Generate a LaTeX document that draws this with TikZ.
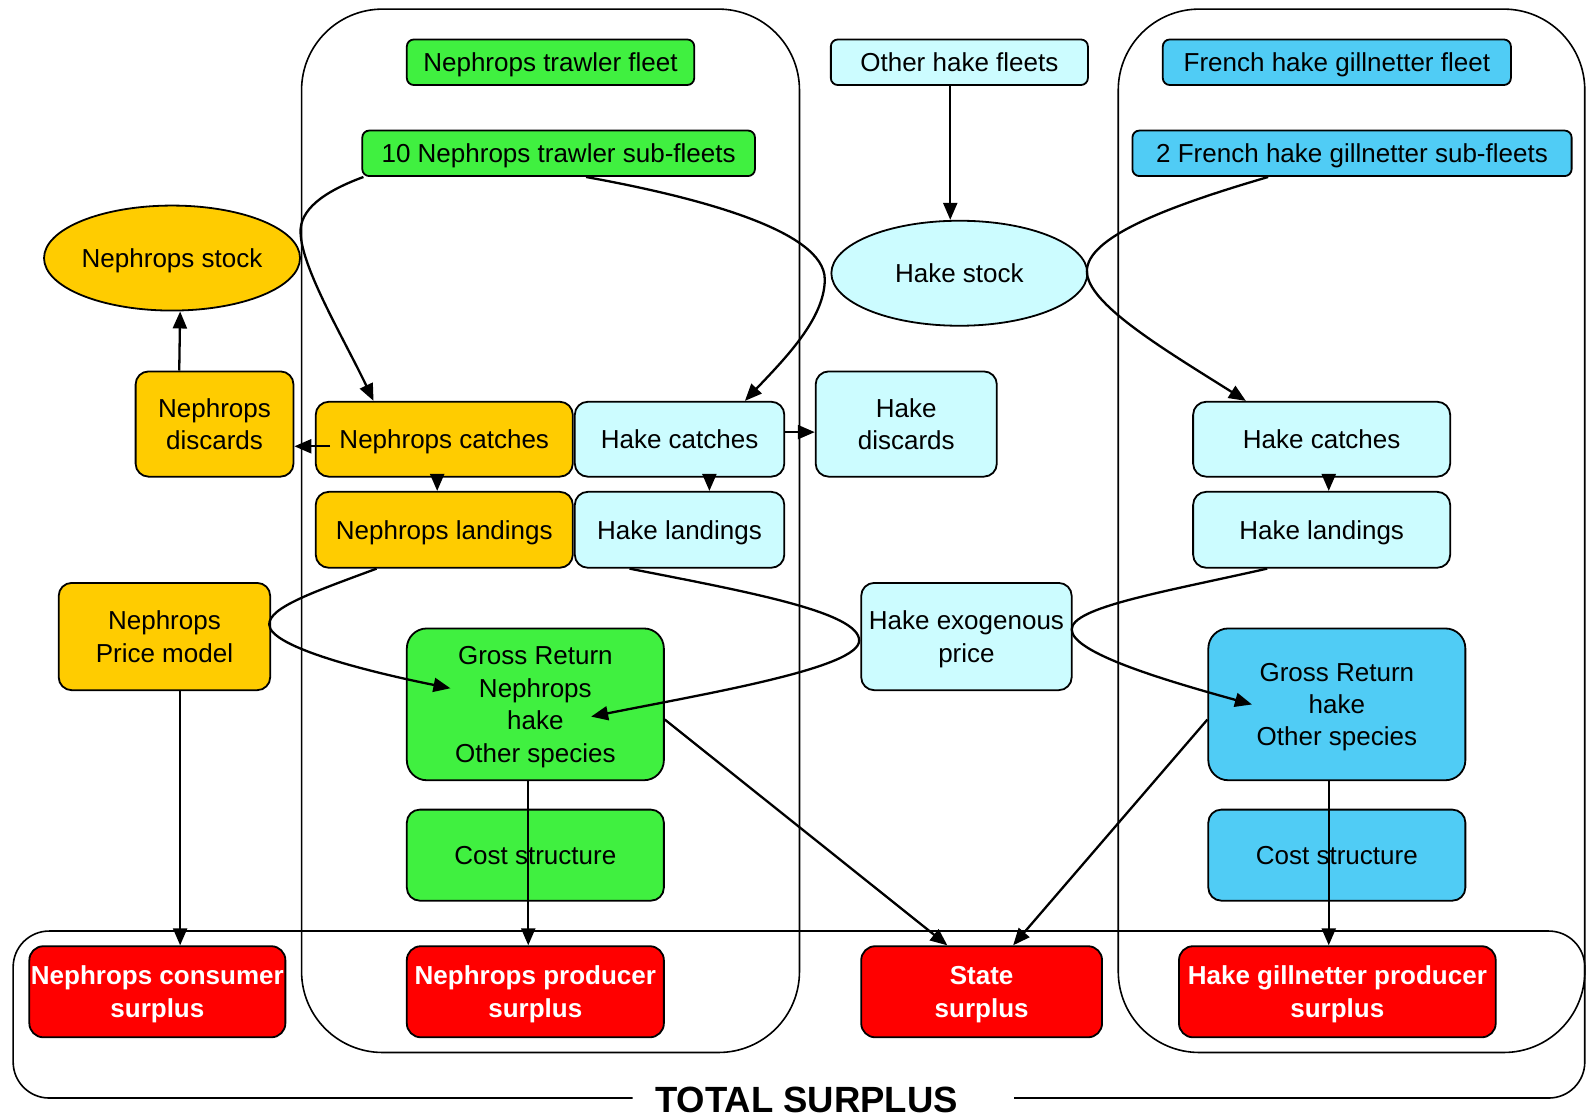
\documentclass[tikz,border=0pt]{standalone}
\usepackage{fontspec}
\setmainfont{Liberation Sans}
\usetikzlibrary{arrows.meta,shapes.geometric,calc}
\definecolor{ngreen}{RGB}{64,240,64}
\definecolor{lcyan}{RGB}{204,252,255}
\definecolor{dcyan}{RGB}{80,204,245}
\definecolor{nyellow}{RGB}{255,204,0}
\definecolor{sred}{RGB}{255,0,0}
% \bx{name}{style}{x1}{y1}{x2}{y2}{text}
\newcommand\bx[7]{\node[#2, minimum width={(#5-#3)*1.012pt}, minimum height={(#6-#4)*1.012pt}] (#1) at ({(#3+#5)/2},{(#4+#6)/2}) {#7};}
\begin{document}
\begin{tikzpicture}[x=1.012pt,y=-1.012pt,
  base/.style={draw=black, line width=1.8pt, inner sep=0pt, align=center, text depth=0pt, font=\fontsize{26}{32.4}\selectfont},
  topbox/.style={base, rounded corners=7pt},
  midbox/.style={base, rounded corners=13pt},
  bigbox/.style={base, rounded corners=20pt},
  redbox/.style={base, rounded corners=14pt, fill=sred, text=white, font=\fontsize{26}{32.4}\selectfont\bfseries},
  stockshape/.style={base, ellipse, minimum width=256pt, minimum height=105pt},
  conn/.style={line width=2.3pt, -{Triangle[length=17pt,width=14pt]}},
  framestyle/.style={line width=1.6pt},
]
\useasboundingbox (0,0) rectangle (1568.2,1103.8);

% containers
\draw[framestyle, rounded corners=81pt] (298,9) rectangle (790,1040);
\draw[framestyle, rounded corners=81pt] (1105,9) rectangle (1566,1040);
\draw[framestyle, rounded corners=36pt] (625,1085) -- (13,1085) -- (13,920) -- (1566,920) -- (1566,1085) -- (1002,1085);

% nodes
\bx{ntf}{topbox, fill=ngreen}{402}{39}{686}{84}{Nephrops trawler fleet}
\bx{nsub}{topbox, fill=ngreen}{358}{129}{746}{174}{10 Nephrops trawler sub-fleets}
\bx{ohf}{topbox, fill=lcyan}{821}{39}{1075}{84}{Other hake fleets}
\bx{fhgf}{topbox, fill=dcyan}{1149}{39}{1493}{84}{French hake gillnetter fleet}
\bx{fsub}{topbox, fill=dcyan}{1119}{129}{1553}{174}{2 French hake gillnetter sub-fleets}

\node[stockshape, fill=nyellow] (nstock) at (170,255) {Nephrops stock};
\node[stockshape, fill=lcyan] (hstock) at (948,270) {Hake stock};

\bx{ndisc}{midbox, fill=nyellow}{134}{367}{290}{471}{Nephrops\\discards}
\bx{ncatch}{midbox, fill=nyellow}{312}{397}{566}{471}{Nephrops catches}
\bx{hcatchL}{midbox, fill=lcyan}{568}{397}{775}{471}{Hake catches}
\bx{hdisc}{midbox, fill=lcyan}{806}{367}{985}{471}{Hake\\discards}
\bx{hcatchR}{midbox, fill=lcyan}{1179}{397}{1433}{471}{Hake catches}

\bx{nland}{midbox, fill=nyellow}{312}{486}{566}{561}{Nephrops landings}
\bx{hlandL}{midbox, fill=lcyan}{568}{486}{775}{561}{Hake landings}
\bx{hlandR}{midbox, fill=lcyan}{1179}{486}{1433}{561}{Hake landings}

\bx{nprice}{midbox, fill=nyellow}{58}{576}{267}{682}{Nephrops\\Price model}
\bx{hprice}{midbox, fill=lcyan}{851}{576}{1059}{682}{Hake exogenous\\price}

\bx{grossL}{bigbox, fill=ngreen}{402}{621}{656}{771}{Gross Return\\Nephrops\\hake\\Other species}
\bx{grossR}{bigbox, fill=dcyan}{1194}{621}{1448}{771}{Gross Return\\hake\\Other species}

\bx{costL}{midbox, fill=ngreen}{402}{800}{656}{890}{Cost structure}
\bx{costR}{midbox, fill=dcyan}{1194}{800}{1448}{890}{Cost structure}

\bx{ncons}{redbox}{29}{935}{282}{1025}{Nephrops consumer\\surplus}
\bx{nprod}{redbox}{402}{935}{656}{1025}{Nephrops producer\\surplus}
\bx{state}{redbox}{851}{935}{1089}{1025}{State\\surplus}
\bx{hprod}{redbox}{1165}{935}{1478}{1025}{Hake gillnetter producer\\surplus}

% curved connectors
\draw[conn] ($(nsub.south west)+(2,0)$) .. controls (318,190) and (296,208) .. (297,230)
  .. controls (298,265) and (340,335) .. ($(ncatch.north west)+(58,0)$);
\draw[conn] ($(nsub.south west)+(222,0)$) .. controls (690,195) and (815,228) .. (815,276)
  .. controls (815,315) and (775,355) .. ($(hcatchL.north west)+(169,0)$);
\draw[conn] ($(fsub.south west)+(135,0)$) .. controls (1150,205) and (1074,235) .. (1074,268)
  .. controls (1074,300) and (1150,345) .. ($(hcatchR.north west)+(53,0)$);
\draw[conn] ($(nland.south west)+(61,0)$) .. controls (310,585) and (266,600) .. (266,617)
  .. controls (266,640) and (370,665) .. ($(grossL.north west)+(44,60)$);
\draw[conn] ($(hlandL.south west)+(55,0)$) .. controls (740,585) and (849,605) .. (849,633)
  .. controls (849,660) and (700,685) .. ($(grossL.north west)+(183,88)$);
\draw[conn] ($(hlandR.south west)+(74,0)$) .. controls (1150,585) and (1059,600) .. (1059,622)
  .. controls (1059,645) and (1150,672) .. ($(grossR.north west)+(44,76)$);

% straight connectors
\draw[conn] ($(ohf.south)+(-9,0)$) -- ($(hstock.north)+(-9,0)$);
\draw[conn] ($(ndisc.north west)+(44,0)$) -- ($(nstock.south)+(8,0)$);
\draw[conn] ($(ncatch.west)+(15,7)$) -- ($(ndisc.east)+(0,22)$);
\draw[conn] ($(hcatchL.east)+(0,-7)$) -- ($(hdisc.west)+(0,8)$);
\draw[conn] ($(ncatch.south)+(-7,0)$) -- ($(nland.north)+(-7,0)$);
\draw[conn] ($(hcatchL.south)+(29.5,0)$) -- ($(hlandL.north)+(29.5,0)$);
\draw[conn] ($(hcatchR.south)+(7,0)$) -- ($(hlandR.north)+(7,0)$);
\draw[conn] ($(nprice.south)+(15.5,0)$) -- ($(ncons.north)+(22.5,0)$);
\draw[conn] ($(grossL.south)+(-7,0)$) -- ($(nprod.north)+(-7,0)$);
\draw[conn] ($(grossR.south)+(-8,0)$) -- ($(hprod.north)+(-8.5,0)$);
\draw[conn] ($(grossL.east)+(0,15)$) -- ($(state.north west)+(86,0)$);
\draw[conn] ($(grossR.west)+(0,15)$) -- ($(state.north west)+(151,0)$);

\node[font=\fontsize{36.5}{40}\selectfont\bfseries, anchor=base, inner sep=0pt] (total) at (797,1099) {TOTAL SURPLUS};
\end{tikzpicture}
\end{document}
